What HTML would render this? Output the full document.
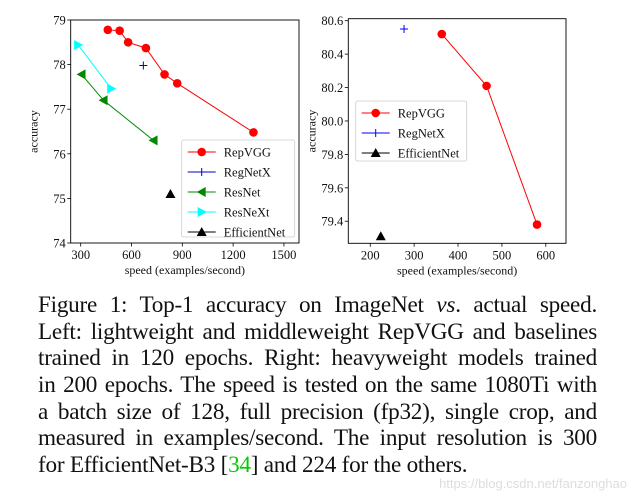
<!DOCTYPE html>
<html><head><meta charset="utf-8"><style>
body{margin:0;width:635px;height:497px;background:#fff;overflow:hidden;position:relative;font-family:"Liberation Serif",serif}
svg{position:absolute;left:0;top:0}
.cap{position:absolute;left:38px;top:292px;width:559px;font-size:23.2px;line-height:26.7px;color:#111;letter-spacing:-0.25px}
.cap div{text-align:justify;text-align-last:justify;white-space:nowrap;height:26.7px}
.cap div.last{text-align-last:left}
.wm{position:absolute;right:8px;bottom:6px;font-family:"Liberation Sans",sans-serif;font-size:13px;color:#ddd}
</style></head><body>
<svg id="chart" width="635" height="290"></svg>
<div class="cap">
<div>Figure 1: Top-1 accuracy on ImageNet <i>vs</i>. actual speed.</div>
<div>Left: lightweight and middleweight RepVGG and baselines</div>
<div>trained in 120 epochs. Right: heavyweight models trained</div>
<div>in 200 epochs. The speed is tested on the same 1080Ti with</div>
<div>a batch size of 128, full precision (fp32), single crop, and</div>
<div>measured in examples/second. The input resolution is 300</div>
<div class="last">for EfficientNet-B3 [<span style="color:#0c0">34</span>] and 224 for the others.</div>
</div>
<div class="wm">https://blog.csdn.net/fanzonghao</div>
<script>
const L_repvgg_x=[460,530,580,685,795,870,1320];
const L_repvgg_y=[78.78,78.76,78.5,78.37,77.78,77.58,76.48];
const L_regnet_x=[670];const L_regnet_y=[77.98];
const L_resnet_x=[305,435,730];const L_resnet_y=[77.78,77.2,76.3];
const L_resnext_x=[285,480];const L_resnext_y=[78.44,77.46];
const L_eff_x=[830];const L_eff_y=[75.1];
const L_xticks=[300,600,900,1200,1500];const L_yticks=[74,75,76,77,78,79];
const R_repvgg_x=[363,465,580];const R_repvgg_y=[80.52,80.21,79.38];
const R_regnet_x=[277];const R_regnet_y=[80.55];
const R_eff_x=[224];const R_eff_y=[79.31];
const R_xticks=[200,300,400,500,600];const R_yticks=[79.4,79.6,79.8,80.0,80.2,80.4,80.6];

const svg=document.getElementById('chart');const NS='http://www.w3.org/2000/svg';
function el(t,a,p){const e=document.createElementNS(NS,t);for(const k in a)e.setAttribute(k,a[k]);(p||svg).appendChild(e);return e;}
function marker(kind,x,y,c,g){
 if(kind==='o')return el('circle',{cx:x,cy:y,r:4.3,fill:c},g);
 if(kind==='+'){const p=el('path',{d:`M${x-4},${y}H${x+4}M${x},${y-4}V${y+4}`,stroke:c,'stroke-width':1},g);return p;}
 if(kind==='<')return el('polygon',{points:`${x-5},${y} ${x+4},${y-5} ${x+4},${y+5}`,fill:c},g);
 if(kind==='>')return el('polygon',{points:`${x+5},${y} ${x-4},${y-5} ${x-4},${y+5}`,fill:c},g);
 if(kind==='^')return el('polygon',{points:`${x},${y-5} ${x-5},${y+4} ${x+5},${y+4}`,fill:c},g);
}
function panel(name,box,xd,yd,xt,yt,fmt,series,leg){
 const g=el('g',{});
 
 
 const sx=v=>box.x0+(v-xd[0])/(xd[1]-xd[0])*(box.x1-box.x0);
 const sy=v=>box.y1-(v-yd[0])/(yd[1]-yd[0])*(box.y1-box.y0);
 xt.forEach(v=>{const x=sx(v);el('line',{x1:x,x2:x,y1:box.y1,y2:box.y1+3.5,stroke:'#000','stroke-width':0.8},g);
  const t=el('text',{x:x,y:box.y1+16,'text-anchor':'middle','font-size':12.5,fill:'#111'},g);t.textContent=v;
  
  });
 yt.forEach(v=>{const y=sy(v);el('line',{x1:box.x0-3.5,x2:box.x0,y1:y,y2:y,stroke:'#000','stroke-width':0.8},g);
  const t=el('text',{x:box.x0-5,y:y+4.5,'text-anchor':'end','font-size':12.5,fill:'#111'},g);t.textContent=fmt(v);
  
  });
 const xl=el('text',{x:(box.x0+box.x1)/2,y:box.y1+31,'text-anchor':'middle','font-size':12,fill:'#111'},g);xl.textContent='speed (examples/second)';
 
 
 const yl=el('text',{x:0,y:0,'text-anchor':'middle','font-size':12,fill:'#111',transform:`translate(${box.x0-33},${(box.y0+box.y1)/2}) rotate(-90)`},g);yl.textContent='accuracy';
 
 
 series.forEach(s=>{const sg=el('g',{},g);
  
  
  if(s.x.length>1)el('polyline',{points:s.x.map((v,i)=>sx(v)+','+sy(s.y[i])).join(' '),fill:'none',stroke:s.c,'stroke-width':1},sg);
  s.x.forEach((v,i)=>marker(s.m,sx(v),sy(s.y[i]),s.c,sg));});
 el('rect',{x:box.x0,y:box.y0,width:box.x1-box.x0,height:box.y1-box.y0,fill:'none',stroke:'#000','stroke-width':0.9},g);
 const lg=el('g',{},g);
 
 
 el('rect',{x:leg.x,y:leg.y,width:leg.w,height:leg.h,rx:2,fill:'#fff',stroke:'#ccc','stroke-width':0.8},lg);
 series.forEach((s,i)=>{const y=leg.y+12+i*20;
  el('line',{x1:leg.x+6,x2:leg.x+34,y1:y,y2:y,stroke:s.c,'stroke-width':1},lg);
  marker(s.m,leg.x+20,y,s.c,lg);
  const t=el('text',{x:leg.x+42,y:y+4.5,'font-size':12.5,fill:'#111'},lg);t.textContent=s.n;
  
  });
}
panel('left-chart',{x0:70.7,x1:299,y0:20,y1:243},[241,1589],[74,79],L_xticks,L_yticks,v=>v,[
 {n:'RepVGG',x:L_repvgg_x,y:L_repvgg_y,c:'#f00',m:'o'},
 {n:'RegNetX',x:L_regnet_x,y:L_regnet_y,c:'#00c',m:'+'},
 {n:'ResNet',x:L_resnet_x,y:L_resnet_y,c:'#080',m:'<'},
 {n:'ResNeXt',x:L_resnext_x,y:L_resnext_y,c:'#0ff',m:'>'},
 {n:'EfficientNet',x:L_eff_x,y:L_eff_y,c:'#000',m:'^'}],{x:181.7,y:140,w:113,h:97});
panel('right-chart',{x0:348.3,x1:566,y0:18.7,y1:243.3},[150,646],[79.268,80.612],R_xticks,R_yticks,v=>v.toFixed(1),[
 {n:'RepVGG',x:R_repvgg_x,y:R_repvgg_y,c:'#f00',m:'o'},
 {n:'RegNetX',x:R_regnet_x,y:R_regnet_y,c:'#00f',m:'+'},
 {n:'EfficientNet',x:R_eff_x,y:R_eff_y,c:'#000',m:'^'}],{x:355.7,y:101,w:111,h:60});
</script>
</body></html>
